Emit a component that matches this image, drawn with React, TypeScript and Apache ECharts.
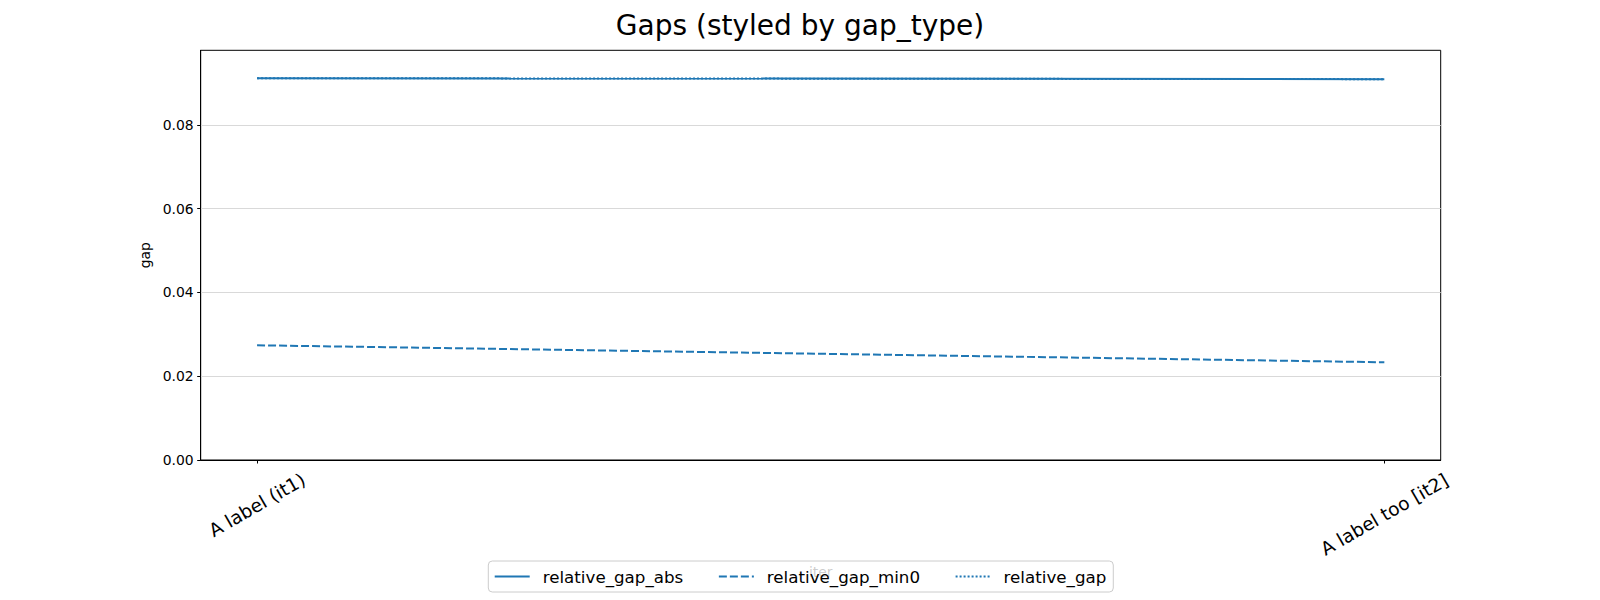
import React, { useEffect, useRef } from "react";
import * as echarts from "echarts";

const categories = ["A label (it1)", "A label too [it2]"];
const categoryPositions = [0, 1];
const relativeGapAbs = [0.09115, 0.09091];
const relativeGapMin0 = [0.02739, 0.02333];
const relativeGap = [0.09115, 0.09091];
const yTicks = [0, 0.02, 0.04, 0.06, 0.08];

const FONT = "DejaVu Sans";
const BLUE = "#1f77b4";

function pairs(values: number[]) {
  return values.map((v, i) => [categoryPositions[i], v]);
}

export default function App() {
  const ref = useRef<HTMLDivElement>(null);
  useEffect(() => {
    if (!ref.current) return;
    const chart = echarts.init(ref.current, null, { renderer: "svg" });
    const lineBase = { type: "line", symbol: "none", showSymbol: false, color: BLUE };
    chart.setOption({
      animation: false,
      textStyle: { fontFamily: FONT },
      title: {
        text: "Gaps (styled by gap_type)",
        left: "center",
        top: 6,
        textStyle: { fontFamily: FONT, fontSize: 28, fontWeight: "normal", color: "#000" },
      },
      grid: {
        left: 200.7,
        right: 159.3,
        top: 50.3,
        bottom: 140,
        show: true,
        borderColor: "#000",
        borderWidth: 1,
        backgroundColor: "transparent",
      },
      xAxis: {
        type: "value",
        min: -0.05,
        max: 1.05,
        name: "iter",
        nameLocation: "middle",
        nameGap: 104,
        nameTextStyle: { fontFamily: FONT, fontSize: 13.9, color: "#000" },
        axisLine: { show: true, onZero: false, lineStyle: { color: "#000", width: 1 } },
        axisTick: { show: true, length: 3.5, lineStyle: { color: "#000" }, customValues: categoryPositions },
        splitLine: { show: false },
        axisLabel: {
          customValues: categoryPositions,
          rotate: 30,
          align: "center",
          verticalAlign: "middle",
          margin: 45,
          formatter: (v: number) => {
            const i = Math.round(v);
            return i === 0 ? `{a|${categories[i]}}` : `{b|${categories[i]}}`;
          },
          rich: {
            a: { fontFamily: FONT, fontSize: 18.5, color: "#000" },
            b: { fontFamily: FONT, fontSize: 18.5, color: "#000", padding: [16.4, 9.5, 0, 0] },
          },
        },
      },
      yAxis: {
        type: "value",
        min: 0,
        max: 0.0978,
        name: "gap",
        nameLocation: "middle",
        nameGap: 46,
        nameTextStyle: { fontFamily: FONT, fontSize: 13.9, color: "#000" },
        axisLine: { show: true, onZero: false, lineStyle: { color: "#000", width: 1 } },
        axisTick: { show: true, length: 3.5, lineStyle: { color: "#000" }, customValues: yTicks },
        splitLine: { show: true, lineStyle: { color: "#d9d9d9", width: 1 } },
        axisLabel: {
          customValues: yTicks,
          margin: 7,
          fontFamily: FONT,
          fontSize: 13.9,
          color: "#000",
          formatter: (v: number) => v.toFixed(2),
        },
      },
      legend: {
        left: "center",
        top: 561,
        orient: "horizontal",
        itemWidth: 35,
        itemHeight: 14,
        itemGap: 34.6,
        padding: [6, 7, 6, 5.4],
        borderColor: "#cccccc",
        borderWidth: 1,
        borderRadius: 4,
        backgroundColor: "rgba(255,255,255,0.8)",
        itemStyle: { color: "rgba(0,0,0,0)", borderColor: "rgba(0,0,0,0)", borderWidth: 0, opacity: 0 },
        textStyle: { fontFamily: FONT, fontSize: 16.7, color: "#000", lineHeight: 19, padding: [0, 0, 0, 8] },
        data: ["relative_gap_abs", "relative_gap_min0", "relative_gap"],
      },
      series: [
        {
          ...lineBase,
          name: "relative_gap_abs",
          data: pairs(relativeGapAbs),
          lineStyle: { color: BLUE, width: 2, type: "solid" },
        },
        {
          ...lineBase,
          name: "relative_gap_min0",
          data: pairs(relativeGapMin0),
          lineStyle: { color: BLUE, width: 2, type: [8, 3] },
        },
        {
          ...lineBase,
          name: "relative_gap",
          data: pairs(relativeGap),
          lineStyle: { color: BLUE, width: 2, type: [2, 2] },
        },
      ],
    });
    return () => chart.dispose();
  }, []);
  return (
    <div
      ref={ref}
      style={{ position: "absolute", left: 0, top: 0, width: 1600, height: 600 }}
    />
  );
}
